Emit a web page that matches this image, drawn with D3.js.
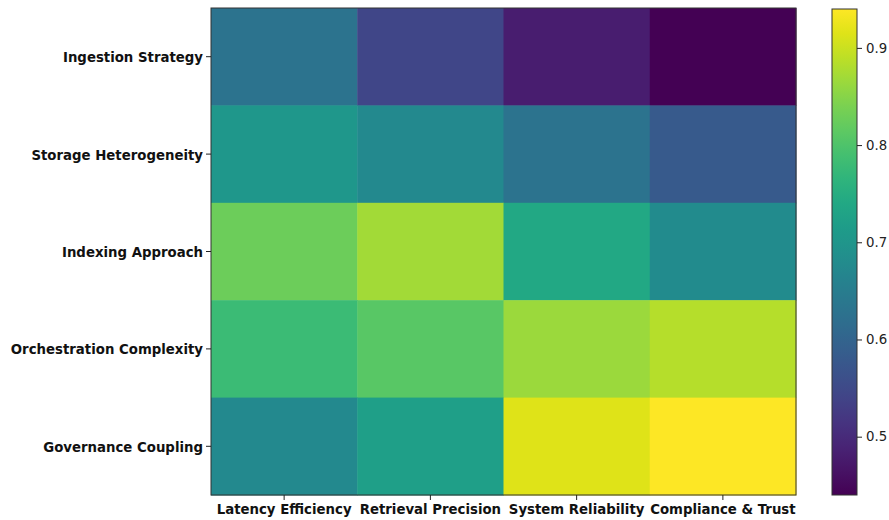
<!DOCTYPE html>
<html>
<head>
<meta charset="utf-8">
<script src="https://cdn.jsdelivr.net/npm/d3@7"></script>
<style>
  body { margin: 0; background: #fff; }
  svg { display: block; font-family: "DejaVu Sans", sans-serif; }
</style>
</head>
<body>
<svg id="chart" width="889" height="520"></svg>
<script>
const rows = ["Ingestion Strategy", "Storage Heterogeneity", "Indexing Approach", "Orchestration Complexity", "Governance Coupling"];
const cols = ["Latency Efficiency", "Retrieval Precision", "System Reliability", "Compliance & Trust"];
const ingestion = [0.63, 0.545, 0.48, 0.44];
const storage = [0.705, 0.675, 0.63, 0.58];
const indexing = [0.828, 0.87, 0.74, 0.68];
const orchestration = [0.78, 0.81, 0.865, 0.885];
const governance = [0.675, 0.72, 0.915, 0.94];
const colorTicks = [0.5, 0.6, 0.7, 0.8, 0.9];
const vMin = 0.44, vMax = 0.94;

const matrix = [ingestion, storage, indexing, orchestration, governance];
const cells = [];
matrix.forEach((r, i) => r.forEach((v, j) => cells.push({ row: rows[i], col: cols[j], v })));

const svg = d3.select("#chart");
const L = 211, R = 796, T = 8, B = 495;
const FS = 13.3;

const x = d3.scaleBand().domain(cols).range([L, R]).padding(0);
const y = d3.scaleBand().domain(rows).range([T, B]).padding(0);
const color = d3.scaleSequential(d3.interpolateViridis).domain([vMin, vMax]);

svg.append("g").selectAll("rect").data(cells).join("rect")
  .attr("x", d => x(d.col)).attr("y", d => y(d.row))
  .attr("width", x.bandwidth() + 0.5).attr("height", y.bandwidth() + 0.5)
  .attr("fill", d => color(d.v));

svg.append("rect").attr("x", L).attr("y", T).attr("width", R - L).attr("height", B - T)
  .attr("fill", "none").attr("stroke", "#333").attr("stroke-width", 1);

const xAxis = svg.append("g").attr("transform", `translate(0,${B})`)
  .call(d3.axisBottom(x).tickSize(5).tickPadding(5));
const yAxis = svg.append("g").attr("transform", `translate(${L},0)`)
  .call(d3.axisLeft(y).tickSize(5).tickPadding(3));
yAxis.selectAll("text").attr("dy", "0.42em");
[xAxis, yAxis].forEach(a => {
  a.select(".domain").remove();
  a.selectAll("line").attr("stroke", "#222");
  a.selectAll("text").attr("font-size", FS).attr("font-weight", "bold")
    .attr("fill", "#111").attr("font-family", "DejaVu Sans");
});

// colorbar
const cbL = 832, cbW = 25, cbT = 9, cbB = 495;
const cy = d3.scaleLinear().domain([vMin, vMax]).range([cbB, cbT]);
const defs = svg.append("defs");
const grad = defs.append("linearGradient").attr("id", "cb").attr("x1", 0).attr("y1", 1).attr("x2", 0).attr("y2", 0);
d3.range(0, 1.0001, 0.05).forEach(t => {
  grad.append("stop").attr("offset", t).attr("stop-color", d3.interpolateViridis(t));
});
svg.append("rect").attr("x", cbL).attr("y", cbT).attr("width", cbW).attr("height", cbB - cbT)
  .attr("fill", "url(#cb)").attr("stroke", "#333").attr("stroke-width", 1);
const cAxis = svg.append("g").attr("transform", `translate(${cbL + cbW},0)`)
  .call(d3.axisRight(cy).tickValues(colorTicks).tickFormat(d3.format(".1f")).tickSize(5).tickPadding(4));
cAxis.select(".domain").remove();
cAxis.selectAll("line").attr("stroke", "#222");
cAxis.selectAll("text").attr("font-size", FS).attr("fill", "#222").attr("font-family", "DejaVu Sans");
</script>
</body>
</html>
